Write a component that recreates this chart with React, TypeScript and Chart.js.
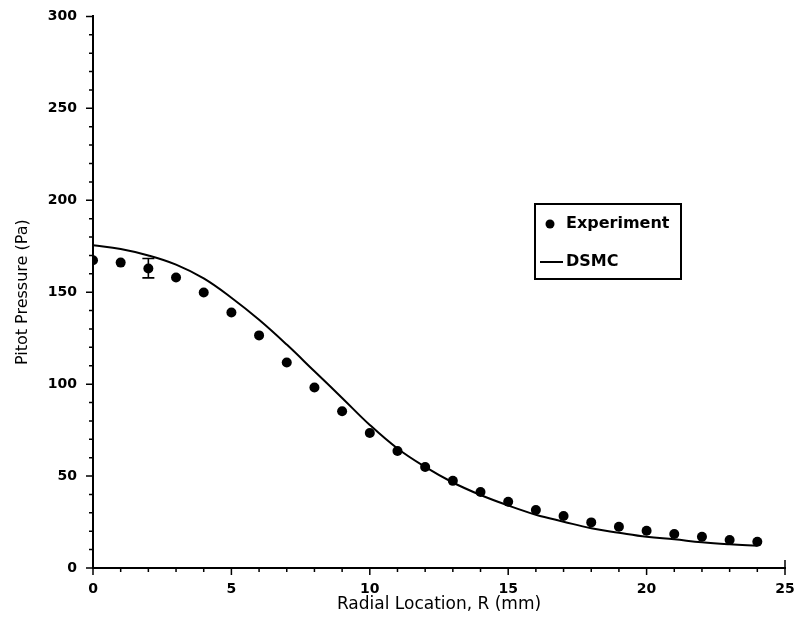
import React, { useEffect, useRef } from 'react';
import { Chart, registerables } from 'chart.js';

Chart.register(...registerables);

const radius = [0, 1, 2, 3, 4, 5, 6, 7, 8, 9, 10, 11, 12, 13, 14, 15, 16, 17, 18, 19, 20, 21, 22, 23, 24];
const experiment = [167.4, 166.1, 162.9, 158.0, 149.8, 139.0, 126.5, 111.8, 98.2, 85.3, 73.4, 63.6, 54.9, 47.4, 41.3, 36.0, 31.5, 28.3, 24.8, 22.4, 20.3, 18.5, 17.0, 15.2, 14.3];
const dsmcRadius = [0, 1, 2, 3, 4, 5, 6, 7, 8, 9, 10, 11, 12, 13, 14, 15, 16, 17, 18, 19, 20, 21, 22, 23, 24];
const dsmc = [175.5, 173.5, 170.0, 165.0, 157.5, 147.0, 135.0, 121.5, 107.0, 92.5, 77.8, 65.0, 55.0, 46.5, 39.7, 34.0, 29.0, 25.2, 21.6, 19.2, 17.0, 15.6, 14.0, 12.9, 12.1];
const errorRadius = [2];
const errorLow = [157.8];
const errorHigh = [168.3];

const seriesNames = ['Experiment', 'DSMC'];
const xTitle = 'Radial Location, R (mm)';
const yTitle = 'Pitot Pressure (Pa)';

const FONT = "'DejaVu Sans', sans-serif";

const decorPlugin = {
  id: 'decor',
  afterDraw(chart: any) {
    const { ctx, chartArea } = chart;
    const x = chart.scales.x;
    const y = chart.scales.y;
    ctx.save();
    ctx.strokeStyle = '#000';
    ctx.fillStyle = '#000';
    ctx.lineWidth = 1.5;
    ctx.beginPath();
    for (let v = 0; v <= 25; v++) {
      const px = x.getPixelForValue(v);
      const len = v % 5 === 0 ? 7 : 4;
      ctx.moveTo(px, chartArea.bottom);
      ctx.lineTo(px, chartArea.bottom + len);
    }
    const px25 = x.getPixelForValue(25);
    ctx.moveTo(px25, chartArea.bottom);
    ctx.lineTo(px25, chartArea.bottom - 8);
    for (let v = 0; v <= 300; v += 10) {
      const py = y.getPixelForValue(v);
      const len = v % 50 === 0 ? 7 : 4;
      ctx.moveTo(chartArea.left, py);
      ctx.lineTo(chartArea.left - len, py);
    }
    ctx.stroke();

    // error bars
    ctx.lineWidth = 1.6;
    ctx.beginPath();
    for (let i = 0; i < errorRadius.length; i++) {
      const px = x.getPixelForValue(errorRadius[i]);
      const lo = y.getPixelForValue(errorLow[i]);
      const hi = y.getPixelForValue(errorHigh[i]);
      ctx.moveTo(px, lo);
      ctx.lineTo(px, hi);
      ctx.moveTo(px - 6, lo);
      ctx.lineTo(px + 6, lo);
      ctx.moveTo(px - 6, hi);
      ctx.lineTo(px + 6, hi);
    }
    ctx.stroke();

    // legend
    const bx = 535, by = 204, bw = 146, bh = 75;
    ctx.lineWidth = 2;
    ctx.strokeRect(bx, by, bw, bh);
    ctx.beginPath();
    ctx.arc(550, 224, 4.5, 0, Math.PI * 2);
    ctx.fill();
    ctx.beginPath();
    ctx.moveTo(540, 262);
    ctx.lineTo(563, 262);
    ctx.stroke();
    ctx.font = `bold 16px ${FONT}`;
    ctx.textBaseline = 'middle';
    ctx.textAlign = 'left';
    ctx.fillText(seriesNames[0], 566, 224);
    ctx.fillText(seriesNames[1], 566, 262);
    ctx.restore();
  },
};

export default function App() {
  const canvasRef = useRef<HTMLCanvasElement | null>(null);

  useEffect(() => {
    const canvas = canvasRef.current;
    if (!canvas) return;
    const chart = new Chart(canvas, {
      type: 'scatter',
      data: {
        datasets: [
          {
            label: seriesNames[0],
            data: radius.map((r, i) => ({ x: r, y: experiment[i] })),
            showLine: false,
            pointRadius: 5,
            pointBackgroundColor: '#000',
            pointBorderColor: '#000',
            pointBorderWidth: 0,
          },
          {
            label: seriesNames[1],
            data: dsmcRadius.map((r, i) => ({ x: r, y: dsmc[i] })),
            showLine: true,
            borderColor: '#000',
            borderWidth: 2,
            pointRadius: 0,
            tension: 0.4,
          },
        ],
      },
      options: {
        responsive: false,
        animation: false,
        layout: { padding: { top: 16, right: 11, left: 0, bottom: 0 } },
        plugins: { legend: { display: false }, tooltip: { enabled: false } },
        scales: {
          x: {
            type: 'linear',
            min: 0,
            max: 25,
            grid: { display: false },
            border: { display: true, color: '#000', width: 2 },
            ticks: {
              stepSize: 5,
              padding: 5,
              color: '#000',
              font: { family: FONT, size: 14, weight: 'bold' },
            },
            title: {
              display: true,
              text: xTitle,
              color: '#000',
              font: { family: FONT, size: 17 },
              padding: { top: 0, bottom: 11 },
            },
            afterFit: (s: any) => {
              s.height = 58;
              s.paddingRight = 0;
              s.paddingLeft = 0;
            },
          },
          y: {
            type: 'linear',
            min: 0,
            max: 300,
            grid: { display: false },
            border: { display: true, color: '#000', width: 2 },
            ticks: {
              stepSize: 50,
              padding: 8,
              color: '#000',
              font: { family: FONT, size: 14, weight: 'bold' },
            },
            title: {
              display: true,
              text: yTitle,
              color: '#000',
              font: { family: FONT, size: 16 },
              padding: { top: 13, bottom: 0 },
            },
            afterFit: (s: any) => {
              s.width = 93;
            },
          },
        },
      },
      plugins: [decorPlugin],
    } as any);
    return () => chart.destroy();
  }, []);

  return (
    <div style={{ position: 'fixed', left: 0, top: 0, width: 796, height: 626, background: '#fff' }}>
      <canvas ref={canvasRef} width={796} height={626} style={{ display: 'block' }} />
    </div>
  );
}
